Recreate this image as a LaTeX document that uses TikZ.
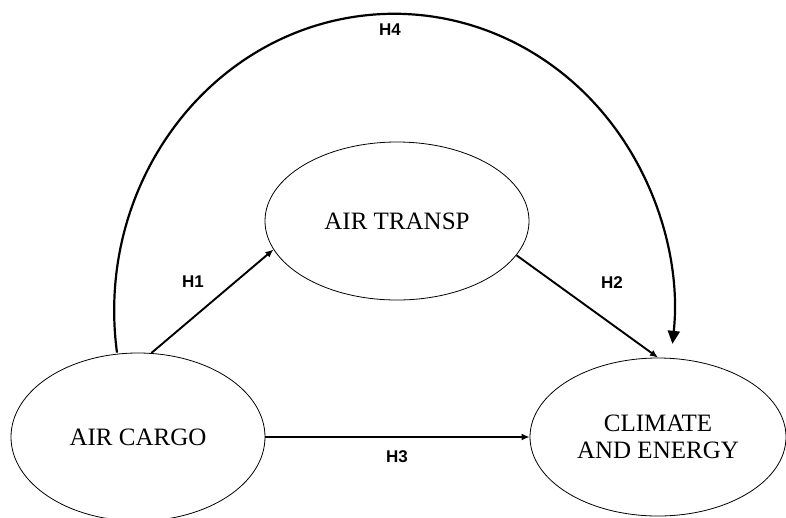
\documentclass[tikz,border=0pt]{standalone}
\usepackage{fontspec}
\setmainfont{Liberation Serif}
\newfontfamily\labfont{Liberation Sans}
\usetikzlibrary{shapes.geometric,arrows.meta}
\begin{document}
\begin{tikzpicture}[x=1pt,y=-1pt,
  ell/.style={draw, ellipse, line width=0.8pt, inner sep=0pt, align=center,
    font=\fontsize{25}{27}\selectfont},
  conn/.style={line width=1.9pt, -{Latex[length=8pt,width=7pt]}},
  bigconn/.style={line width=2.2pt, -{Triangle[length=13pt,width=12pt]}},
  hlab/.style={font=\labfont\bfseries\fontsize{17}{17}\selectfont}]
\useasboundingbox (0,0) rectangle (786,517);
\node[ell, minimum width=254pt, minimum height=168pt] (ac) at (138,437) {AIR CARGO};
\node[ell, minimum width=264pt, minimum height=158pt] (at) at (397,221) {AIR TRANSP};
\node[ell, minimum width=256pt, minimum height=158pt] (cl) at (658,437) {CLIMATE\\AND ENERGY};
\draw[conn] (ac.81) -- (at.193);
\draw[conn] (at.-16) -- (cl.north);
\draw[conn] (ac.east) -- (cl.west);
\draw[bigconn] ([xshift=-21pt]ac.north) arc[start angle=188.1, end angle=-6.4, x radius=280pt, y radius=297pt];
\node[hlab] (l1) at (193,282) {H1};
\node[hlab] (l2) at (612,283) {H2};
\node[hlab] (l3) at (397,457) {H3};
\node[hlab] (l4) at (390,30) {H4};
\end{tikzpicture}
\end{document}
